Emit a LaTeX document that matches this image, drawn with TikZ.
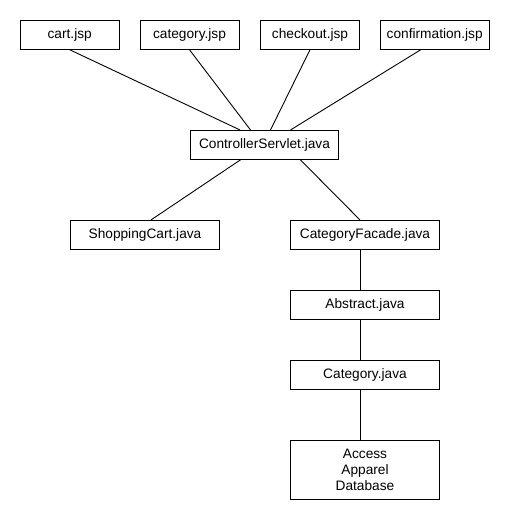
\documentclass[tikz,border=0pt]{standalone}
\usepackage{fontspec}
\setmainfont{Liberation Sans}
\begin{document}
\begin{tikzpicture}[x=1pt,y=-1pt,line width=0.9pt,
	box/.style={draw,inner sep=0pt,minimum height=28.6pt,font=\fontsize{13.7}{16}\selectfont},
	jbox/.style={box,minimum width=148.6pt}]
	\useasboundingbox (0,0) rectangle (510,520);
	\node[box,minimum width=99pt] (cart) at (69.7,35) {cart.jsp};
	\node[box,minimum width=99pt] (category) at (189.5,35) {category.jsp};
	\node[box,minimum width=98.6pt] (checkout) at (310,35) {checkout.jsp};
	\node[box,minimum width=109.3pt] (confirm) at (434.7,35) {confirmation.jsp};
	\node[jbox] (servlet) at (264.5,144.7) {ControllerServlet.java};
	\node[jbox] (cartjava) at (145,234.7) {ShoppingCart.java};
	\node[jbox] (facade) at (365,234.7) {CategoryFacade.java};
	\node[jbox] (abstract) at (365,305) {Abstract.java};
	\node[jbox] (catjava) at (365,375) {Category.java};
	\node[jbox,minimum height=58.6pt,align=center] (db) at (365,470) {Access\\Apparel\\Database};
	\draw (cart.south)--([xshift=-24.5pt]servlet.north);
	\draw (category.south)--([xshift=-14pt]servlet.north);
	\draw (checkout.south)--([xshift=6pt]servlet.north);
	\draw ([xshift=-14pt]confirm.south)--([xshift=26pt]servlet.north);
	\draw ([xshift=-23.5pt]servlet.south)--([xshift=6pt]cartjava.north);
	\draw ([xshift=35.5pt]servlet.south)--([xshift=-5pt]facade.north);
	\draw ([xshift=-4.3pt]facade.south)--([xshift=-4.3pt]abstract.north);
	\draw ([xshift=-4.3pt]abstract.south)--([xshift=-4.3pt]catjava.north);
	\draw ([xshift=-4.3pt]catjava.south)--([xshift=-4.3pt]db.north);
\end{tikzpicture}
\end{document}
